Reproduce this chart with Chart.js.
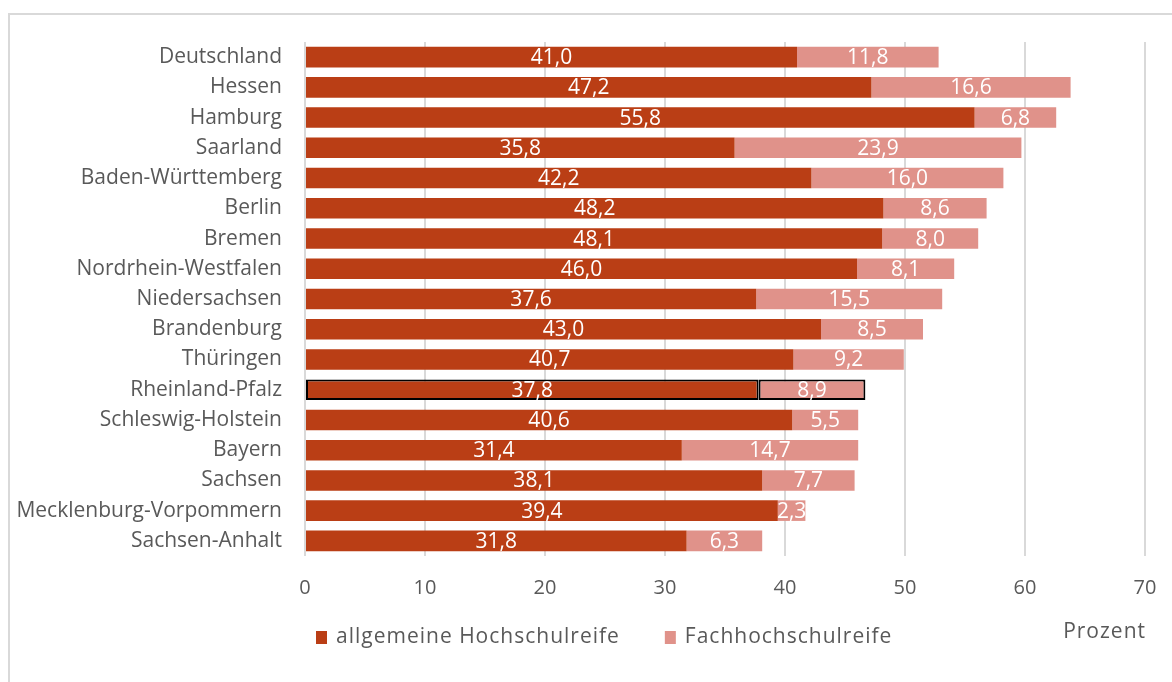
<!DOCTYPE html>
<html>
<head>
<meta charset="utf-8">
<script src="https://cdn.jsdelivr.net/npm/chart.js@4.4.1/dist/chart.umd.min.js"></script>
<style>
  html, body { margin: 0; padding: 0; background: #fff; overflow: hidden; }
  #frame { position: absolute; left: 8px; top: 13px; width: 1200px; height: 720px; border: 2px solid #d9d9d9; }
  #wrap { position: absolute; left: 0; top: 0; width: 1172px; height: 682px; }
</style>
</head>
<body>
<div id="frame"></div>
<div id="wrap"><canvas id="myChart" width="1172" height="682"></canvas></div>
<script>
const categories = ["Deutschland", "Hessen", "Hamburg", "Saarland", "Baden-Württemberg", "Berlin", "Bremen",
    "Nordrhein-Westfalen", "Niedersachsen", "Brandenburg", "Thüringen", "Rheinland-Pfalz",
    "Schleswig-Holstein", "Bayern", "Sachsen", "Mecklenburg-Vorpommern", "Sachsen-Anhalt"];
const allgemein = [41.0, 47.2, 55.8, 35.8, 42.2, 48.2, 48.1, 46.0, 37.6, 43.0, 40.7, 37.8, 40.6, 31.4, 38.1, 39.4, 31.8];
const fach = [11.8, 16.6, 6.8, 23.9, 16.0, 8.6, 8.0, 8.1, 15.5, 8.5, 9.2, 8.9, 5.5, 14.7, 7.7, 2.3, 6.3];
const seriesNames = ["allgemeine Hochschulreife", "Fachhochschulreife"];
const xTicks = [0, 10, 20, 30, 40, 50, 60, 70];
const highlight = "Rheinland-Pfalz";

const FONT = "'Open Sans', sans-serif";
const TEXT = '#595959';
const darkRed = '#BA3E15';
const lightRed = '#E0928A';

const borderColors = categories.map(c => c === highlight ? '#000' : 'rgba(0,0,0,0)');
const borderWidths = categories.map(c => c === highlight ? 2 : 0);

// white value labels in the middle of each segment
const valueLabels = {
    id: 'valueLabels',
    afterDatasetsDraw(chart) {
        const ctx = chart.ctx;
        ctx.save();
        ctx.font = '21px ' + FONT;
        ctx.fillStyle = '#fff';
        ctx.textAlign = 'center';
        ctx.textBaseline = 'middle';
        chart.data.datasets.forEach((ds, i) => {
            chart.getDatasetMeta(i).data.forEach((bar, j) => {
                const x = (bar.x + bar.base) / 2;
                ctx.fillText(ds.data[j].toFixed(1).replace('.', ','), x, bar.y + 1);
            });
        });
        ctx.restore();
    }
};

// legend under the axis plus the "Prozent" unit
const bottomLegend = {
    id: 'bottomLegend',
    afterDraw(chart) {
        const ctx = chart.ctx;
        ctx.save();
        ctx.font = '21px ' + FONT;
        ctx.letterSpacing = '1px';
        ctx.textBaseline = 'middle';
        ctx.textAlign = 'left';
        const y = 637;
        let x = 316;
        chart.data.datasets.forEach((ds, i) => {
            ctx.fillStyle = ds.backgroundColor;
            ctx.fillRect(x, y - 6, 11, 13);
            ctx.fillStyle = TEXT;
            ctx.fillText(ds.label, x + 20, y);
            x += 20 + ctx.measureText(ds.label).width + 45;
        });
        ctx.textAlign = 'right';
        ctx.fillText('Prozent', 1146, 632);
        ctx.restore();
    }
};

const ctx = document.getElementById('myChart').getContext('2d');
new Chart(ctx, {
    type: 'bar',
    data: {
        labels: categories,
        datasets: [{
            label: seriesNames[0],
            data: allgemein,
            backgroundColor: darkRed,
            borderColor: borderColors,
            borderWidth: borderWidths,
            borderSkipped: false
        }, {
            label: seriesNames[1],
            data: fach,
            backgroundColor: lightRed,
            borderColor: borderColors,
            borderWidth: borderWidths,
            borderSkipped: false
        }]
    },
    options: {
        indexAxis: 'y',
        responsive: false,
        animation: false,
        barPercentage: 0.68,
        categoryPercentage: 1,
        layout: { padding: { left: 0, top: 42, right: 27, bottom: 0 } },
        plugins: { legend: { display: false }, tooltip: { enabled: false } },
        scales: {
            x: {
                stacked: true,
                min: 0,
                max: 70,
                afterBuildTicks: (scale) => { scale.ticks = xTicks.map(v => ({ value: v })); },
                afterFit: (scale) => {
                    scale.height = 126;
                    scale.paddingLeft = 0;
                    scale.paddingRight = 0;
                },
                grid: { color: '#d9d9d9', lineWidth: 2, drawTicks: false },
                border: { display: false },
                ticks: { color: TEXT, font: { family: FONT, size: 20 }, padding: 20 }
            },
            y: {
                stacked: true,
                afterFit: (scale) => { scale.width = 305; },
                grid: { display: false, drawTicks: false },
                border: { display: false },
                ticks: { color: TEXT, font: { family: FONT, size: 21 }, padding: 23 }
            }
        }
    },
    plugins: [valueLabels, bottomLegend]
});
</script>
</body>
</html>
